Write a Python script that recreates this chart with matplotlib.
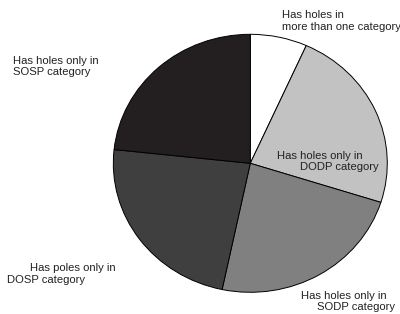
import matplotlib
matplotlib.use("Agg")
import matplotlib.pyplot as plt

# slices clockwise from 12 o'clock
categories = ["Has holes in\nmore than one category",
              "Has holes only in\nDODP category",
              "Has holes only in\nSODP category",
              "Has poles only in\nDOSP category",
              "Has holes only in\nSOSP category"]
shares = [6.7, 23.2, 23.4, 23.4, 23.3]
colors = ["#ffffff", "#c2c2c2", "#808080", "#3f3f3f", "#231f20"]

W, H = 400, 314
fig = plt.figure(figsize=(W / 100, H / 100), dpi=100)
ax = fig.add_axes([0, 0, 1, 1])

cx, cy, rx, ry = 250.3, 163.3, 137.0, 129.0
ax.pie(shares, colors=colors, startangle=90, counterclock=False,
       wedgeprops=dict(edgecolor="black", linewidth=0.7))
ax.set_aspect("auto")
ax.set_xlim(-cx / rx, (W - cx) / rx)
ax.set_ylim((cy - H) / ry, cy / ry)
ax.axis("off")

# label lines placed by pixel position (left x, center y)
label_lines = [
    (282, 15, categories[0].split("\n")[0]),
    (282, 27, categories[0].split("\n")[1]),
    (277, 156, categories[1].split("\n")[0]),
    (300, 167, categories[1].split("\n")[1]),
    (301, 296, categories[2].split("\n")[0]),
    (317, 307, categories[2].split("\n")[1]),
    (30, 268, categories[3].split("\n")[0]),
    (7, 280, categories[3].split("\n")[1]),
    (13, 61, categories[4].split("\n")[0]),
    (13, 72, categories[4].split("\n")[1]),
]
for x, y, s in label_lines:
    fig.text(x / W, 1 - y / H, s, ha="left", va="center",
             fontsize=8.1, family="Liberation Sans", color="#222222")

fig.savefig("out.png", dpi=100)
